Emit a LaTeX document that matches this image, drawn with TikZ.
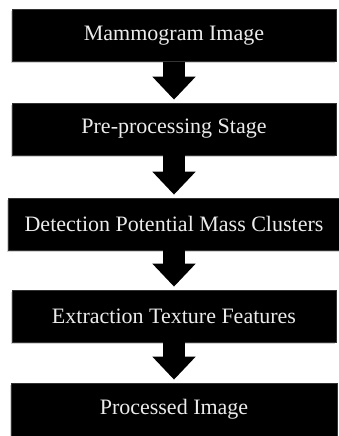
\documentclass[tikz,border=0pt]{standalone}
\usepackage{fontspec}
\setmainfont{Liberation Serif}
\usepackage{tikz}
\usetikzlibrary{arrows.meta}
\usetikzlibrary{shadows}
\usetikzlibrary{positioning}
\tikzset{stage/.style={rectangle,fill=black,draw=black!80,line width=0.8pt,text=white!92!black,minimum width=324pt,minimum height=52pt,inner sep=0pt,font=\fontsize{22}{26}\selectfont,drop shadow={shadow xshift=-1.5pt,shadow yshift=-2pt,opacity=0.35}}}
\tikzset{flow/.style={line width=22pt,-{Triangle[length=23pt,width=42pt]},shorten >=3pt}}

\begin{document}
\begin{tikzpicture}[x=1pt,y=1pt]
\useasboundingbox (0,0) rectangle (339,-436);
\node[stage] (img) at (174,-35.5) {Mammogram Image};
\node[stage] (pre) at (174,-129) {Pre-processing Stage};
\node[stage,minimum width=332pt] (det) at (174,-224) {Detection Potential Mass Clusters};
\node[stage] (ext) at (174,-316) {Extraction Texture Features};
\node[stage,minimum width=326pt,minimum height=53pt] (out) at (174,-409.5) {Processed Image};

\draw[flow] (img) -- (pre);
\draw[flow] (pre) -- (det);
\draw[flow] (det) -- (ext);
\draw[flow] (ext) -- (out);
\end{tikzpicture}
\end{document}
